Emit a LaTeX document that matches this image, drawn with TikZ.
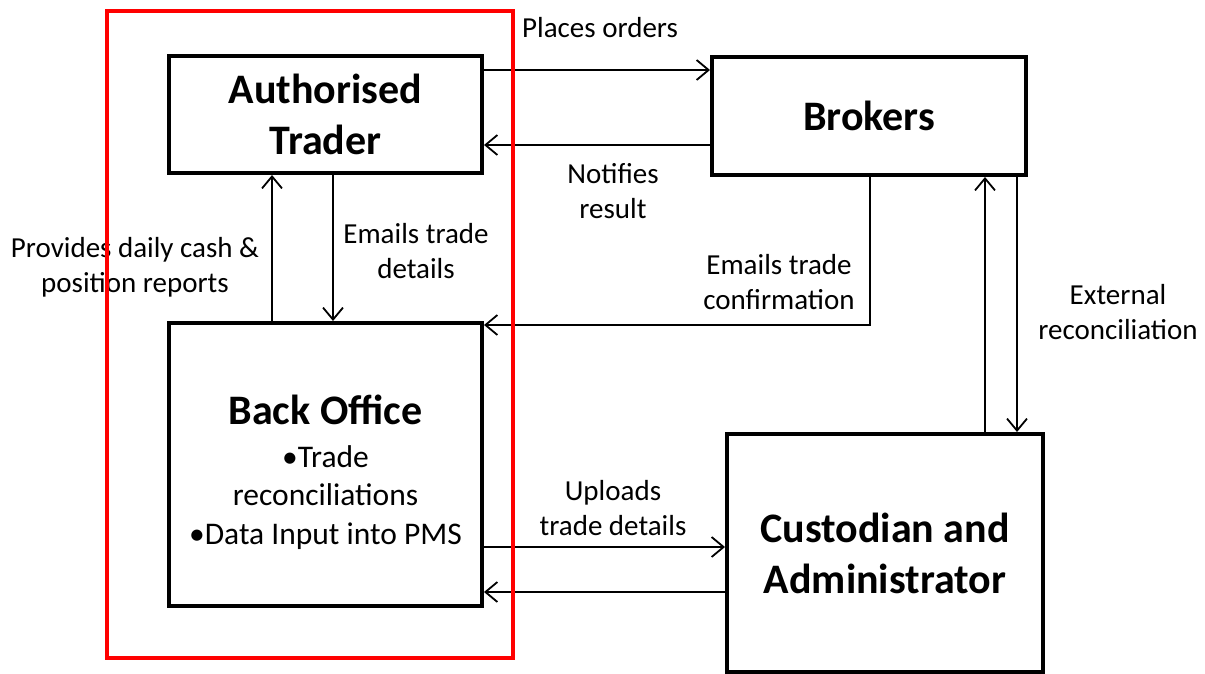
\documentclass[tikz,border=0pt]{standalone}
\usepackage{fontspec}
\setmainfont{Carlito}
\usetikzlibrary{arrows.meta}
\begin{document}
\begin{tikzpicture}[x=1pt,y=-1pt,
  box/.style={draw,line width=4pt,inner sep=0pt,align=center,font=\fontsize{42}{51}\selectfont\bfseries},
  arr/.style={line width=1.8pt,-{Straight Barb[length=12pt,width=20pt,line width=1.8pt]}},
  lbl/.style={align=center,font=\fontsize{29}{35}\selectfont,inner sep=0pt},
  frame/.style={draw=red,line width=4pt}]
\useasboundingbox (0,0) rectangle (1205,674);
\node[box,minimum width=313pt,minimum height=117pt] (AT) at (325.5,114.5) {Authorised\\Trader};
\node[box,minimum width=314pt,minimum height=118pt] (BR) at (869,116) {Brokers};
\node[box,minimum width=313pt,minimum height=283pt] (BO) at (325.5,464.5) {};
\node[box,minimum width=316pt,minimum height=238pt] (CU) at (885,553) {Custodian and\\Administrator};
\node[align=center,inner sep=0pt,font=\fontsize{31.5}{38.5}\selectfont] (BOt) at (325.5,472) {{\fontsize{42}{51}\selectfont\bfseries Back Office}\\[4.5pt]
  \textbullet Trade\\
  reconciliations\\
  \textbullet Data Input into PMS};
\coordinate (xa) at (272,0);
\coordinate (xb) at (333,0);
\coordinate (xc) at (870,0);
\coordinate (xd) at (985,0);
\coordinate (xe) at (1017,0);
\coordinate (ya) at (0,70);
\coordinate (yb) at (0,145);
\coordinate (yc) at (0,325);
\coordinate (yd) at (0,547);
\coordinate (ye) at (0,592);
\draw[arr] (AT.east |- ya) -- (BR.west |- ya);
\draw[arr] (BR.west |- yb) -- (AT.east |- yb);
\draw[arr] (BO.north -| xa) -- (AT.south -| xa);
\draw[arr] (AT.south -| xb) -- (BO.north -| xb);
\draw[arr] (BR.south -| xc) |- (BO.east |- yc);
\draw[arr] (CU.north -| xd) -- (BR.south -| xd);
\draw[arr] (BR.south -| xe) -- (CU.north -| xe);
\draw[arr] (BO.east |- yd) -- (CU.west |- yd);
\draw[arr] (CU.west |- ye) -- (BO.east |- ye);
\node[lbl] (l1) at (600,28) {Places orders};
\node[lbl] (l2) at (613,191) {Notifies\\result};
\node[lbl] (l3) at (135,267) {Provides daily cash \&\\position reports};
\node[lbl] (l4) at (416,251) {Emails trade\\details};
\node[lbl] (l5) at (779,282) {Emails trade\\confirmation};
\node[lbl] (l6) at (1118,312) {External\\reconciliation};
\node[lbl] (l7) at (613,508) {Uploads\\trade details};
\draw[frame] (107,11) rectangle (513,658);
\end{tikzpicture}
\end{document}
